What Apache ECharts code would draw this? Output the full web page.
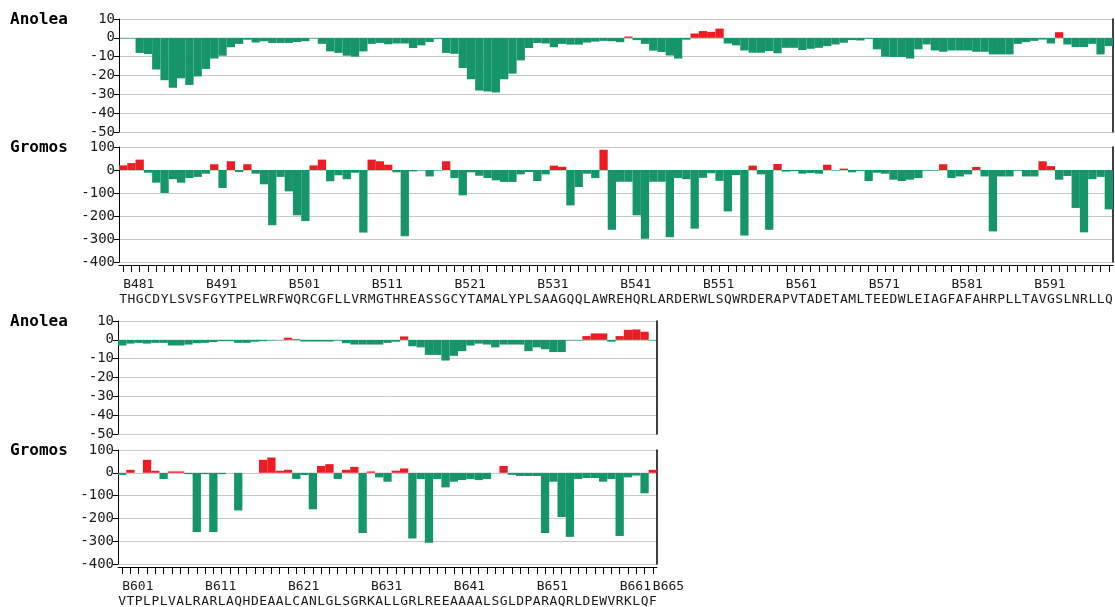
<!DOCTYPE html>
<html><head><meta charset="utf-8">
<script src="https://cdn.jsdelivr.net/npm/echarts@6/dist/echarts.min.js"></script>
<style>html,body{margin:0;padding:0;background:#fff}#c{width:1115px;height:607px}</style>
</head><body><div id="c"></div>
<script>
// ---- data ----
const seqTop = 'THGCDYLSVSFGYTPELWRFWQRCGFLLVRMGTHREASSGCYTAMALYPLSAAGQQLAWREHQRLARDERWLSQWRDERAPVTADETAMLTEEDWLEIAGFAFAHRPLLTAVGSLNRLLQ'.split('');
const seqBottom = 'VTPLPLVALRARLAQHDEAALCANLGLSGRKALLGRLREEAAAALSGLDPARAQRLDEWVRKLQF'.split('');
const firstTop = 481, firstBottom = 601;
const resTop = seqTop.map((_, i) => String(firstTop + i));
const resBottom = seqBottom.map((_, i) => String(firstBottom + i));

const anoleaTicks = [-50, -40, -30, -20, -10, 0, 10];
const gromosTicks = [-400, -300, -200, -100, 0, 100];

const anoleaTop = [
 -0.3,-0.3,-8,-8.6,-16.8,-22.5,-26.5,-21.5,-25,-20.5,
 -16.5,-11,-9.5,-5,-3.2,-1,-2.5,-1.8,-2.7,-2.7,
 -2.7,-2.2,-1.8,-0.3,-3.2,-7.2,-8,-9.5,-10,-7.2,
 -3.2,-2.7,-3.4,-3,-3,-5.4,-4,-2.2,-0.5,-8,
 -8.5,-16,-22,-28,-28.5,-29,-22,-19,-12,-5.4,
 -2.7,-3,-5,-3.2,-3.6,-3.6,-2.5,-2,-1.6,-1.8,
 -2.3,0.7,-1.2,-3.2,-6.8,-7.5,-9.4,-11,-1,2.3,
 3.6,3.2,4.9,-3,-4,-6.7,-7.9,-7.9,-7,-8.2,
 -5.3,-5.3,-6.5,-5.8,-5.3,-4.4,-3.5,-2.6,-1.2,-1.4,
 -0.5,-6.1,-10,-10.2,-10.2,-11,-6.1,-3.5,-6.7,-7.4,
 -6.7,-6.7,-6.7,-7.4,-7.4,-8.8,-8.8,-8.8,-3.2,-2.3,
 -1.6,-0.9,-3,3,-3.5,-4.9,-4.9,-3.2,-8.8,-4.4];
const gromosTop = [
 20,30,45,-12,-55,-100,-40,-55,-35,-30,
 -16,25,-78,38,-9,25,-16,-62,-240,-30,
 -93,-197,-222,20,45,-49,-23,-40,-12,-272,
 45,38,23,-10,-288,-6,-2,-28,-2,38,
 -35,-110,-10,-25,-35,-45,-52,-52,-19,-9,
 -48,-19,19,14,-154,-74,-16,-35,88,-260,
 -51,-51,-197,-299,-51,-51,-292,-35,-40,-255,
 -34,-14,-47,-180,-22,-285,19,-19,-260,26,
 -7,-5,-16,-13,-16,23,-2,6,-10,-4,
 -48,-12,-16,-42,-48,-42,-35,-3,-2,25,
 -35,-28,-19,13,-28,-267,-28,-28,-3,-28,
 -28,38,17,-42,-26,-165,-271,-40,-30,-171];
const anoleaBottom = [
 -3,-2,-1.6,-2,-1.6,-1.6,-3,-3,-2.5,-1.8,
 -1.6,-1.2,-0.7,-0.7,-1.6,-1.6,-1,-0.7,-0.3,-0.2,
 1.1,0.4,-0.9,-0.9,-0.9,-0.9,-0.4,-1.8,-2.5,-2.5,
 -2.5,-2.5,-1.6,-1,1.8,-3.4,-4,-8,-8,-11,
 -8.5,-6,-3,-2,-2.5,-4,-2.5,-2.5,-2.5,-6,
 -4,-5,-6.5,-6.5,-0.3,-0.3,2,3.4,3.4,-1,
 2,5.3,5.5,4.3,-0.3];
const gromosBottom = [
 -9,13,0,57,9,-27,6,6,-6,-260,
 -6,-260,-6,0,-165,0,0,57,67,9,
 13,-27,-10,-160,30,38,-27,13,26,-264,
 6,-20,-39,9,19,-288,-27,-307,-27,-64,
 -39,-32,-27,-32,-27,0,30,-9,-14,-14,
 -14,-264,-39,-194,-281,-27,-23,-23,-39,-27,
 -277,-20,-12,-90,13];

// ---- style ----
const GREEN = '#16946a', RED = '#ec1c24';
const MONO = '"DejaVu Sans Mono", "Liberation Mono", monospace';
const TXT = '#1a1a1a';

const panels = [
  {name: 'Anolea', cats: resTop, seq: seqTop, data: anoleaTop, ticks: anoleaTicks, grid: {left: 119, top: 19, width: 994, height: 113}, bottomAxis: false, labelLast: false},
  {name: 'Gromos', cats: resTop, seq: seqTop, data: gromosTop, ticks: gromosTicks, grid: {left: 119, top: 147, width: 994, height: 115}, bottomAxis: true, labelLast: false},
  {name: 'Anolea', cats: resBottom, seq: seqBottom, data: anoleaBottom, ticks: anoleaTicks, grid: {left: 118, top: 321, width: 539, height: 113}, bottomAxis: false, labelLast: true},
  {name: 'Gromos', cats: resBottom, seq: seqBottom, data: gromosBottom, ticks: gromosTicks, grid: {left: 118, top: 450, width: 539, height: 114}, bottomAxis: true, labelLast: true}
];

const grid = [], xAxis = [], yAxis = [], series = [], title = [];
panels.forEach((p, gi) => {
  grid.push(Object.assign({containLabel: false, outerBoundsMode: 'none'}, p.grid));
  title.push({text: p.name, left: 10, top: p.grid.top - 7, padding: 0,
    textStyle: {fontFamily: MONO, fontWeight: 'bold', fontSize: 16, color: '#000'}});
  const last = p.cats.length - 1;
  xAxis.push({
    type: 'category', gridIndex: gi, data: p.cats, position: 'bottom', offset: 3,
    boundaryGap: true,
    axisLine: {show: p.bottomAxis, onZero: false, lineStyle: {color: '#000', width: 1}},
    axisTick: {show: p.bottomAxis, alignWithLabel: true, interval: 0, length: 7, lineStyle: {color: '#000'}},
    axisLabel: {show: p.bottomAxis, interval: 0, align: 'left', margin: 13,
      fontFamily: MONO, fontSize: 13, color: TXT,
      formatter: (v, i) => (i % 10 === 0 || (p.labelLast && i === last)) ? 'B' + v : ''},
    splitLine: {show: false}
  });
  xAxis.push({
    type: 'category', gridIndex: gi, data: p.seq, position: 'bottom', offset: 3,
    boundaryGap: true,
    axisLine: {show: false}, axisTick: {show: false},
    axisLabel: {show: p.bottomAxis, interval: 0, margin: 28, fontFamily: MONO, fontSize: 13, color: TXT},
    splitLine: {show: false}
  });
  const mn = p.ticks[0], mx = p.ticks[p.ticks.length - 1], iv = p.ticks[1] - p.ticks[0];
  yAxis.push({
    type: 'value', gridIndex: gi, min: mn, max: mx, interval: iv, position: 'left',
    axisLine: {show: true, lineStyle: {color: '#000', width: 1}},
    axisTick: {show: true, length: 5, lineStyle: {color: '#000'}},
    axisLabel: {margin: 4, fontFamily: MONO, fontSize: 14, color: TXT},
    splitLine: {show: true, lineStyle: {color: '#c9c9c9', width: 1}}
  });
  yAxis.push({
    type: 'value', gridIndex: gi, min: mn, max: mx, interval: iv, position: 'right',
    axisLine: {show: true, lineStyle: {color: '#000', width: 1.5}},
    axisTick: {show: false}, axisLabel: {show: false}, splitLine: {show: false}
  });
  series.push({
    type: 'bar', xAxisIndex: gi * 2, yAxisIndex: gi * 2,
    data: p.data, barCategoryGap: '0%', barGap: '0%',
    silent: true, animation: false,
    itemStyle: {color: (d) => d.value > 0 ? RED : GREEN}
  });
});

const chart = echarts.init(document.getElementById('c'), null, {renderer: 'canvas'});
chart.setOption({backgroundColor: '#fff', animation: false, title, grid, xAxis, yAxis, series});
</script>
</body></html>
